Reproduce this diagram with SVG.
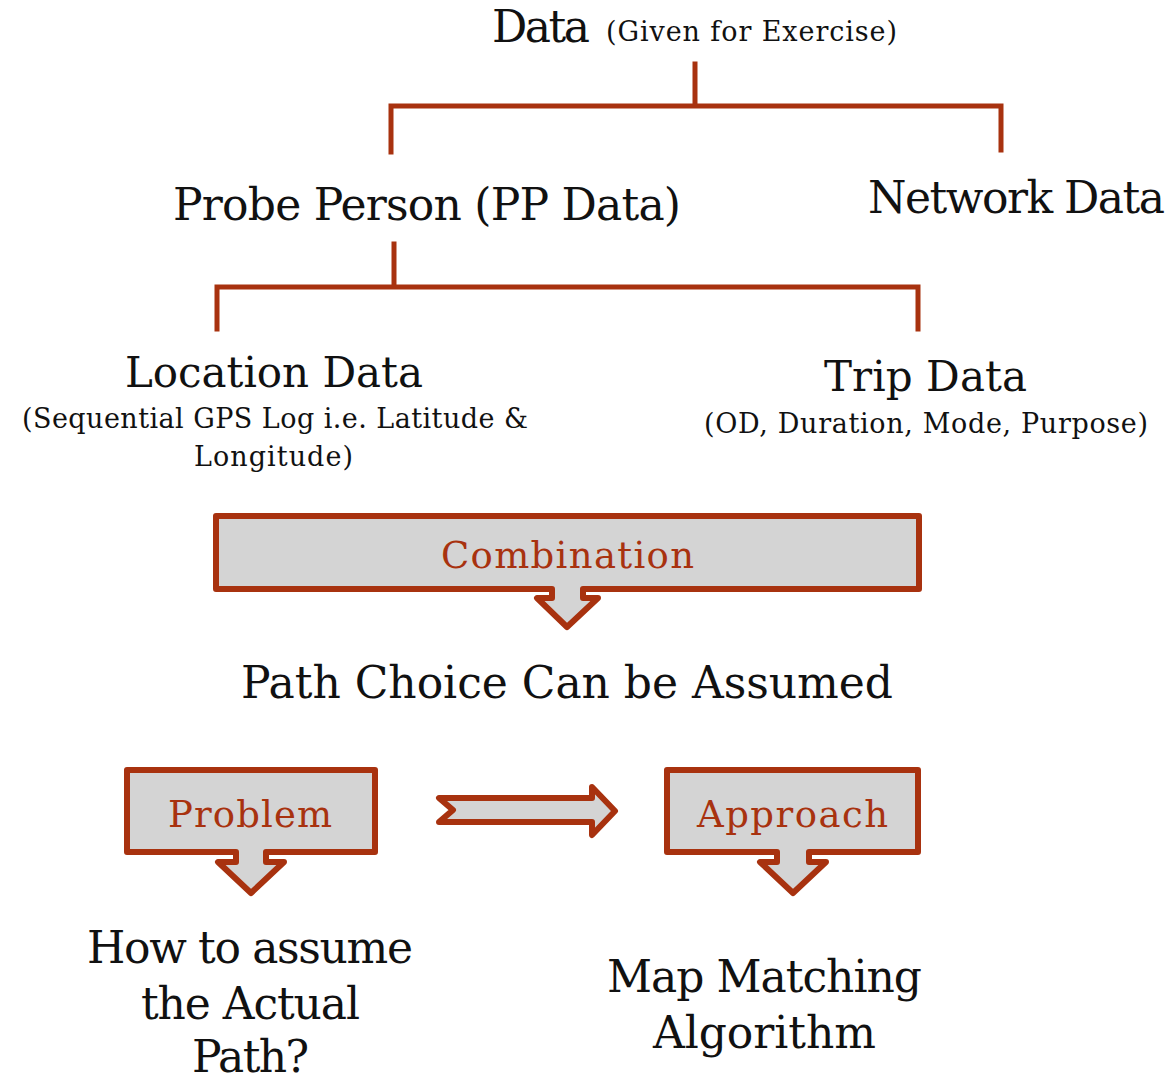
<svg xmlns="http://www.w3.org/2000/svg" width="1172" height="1081" viewBox="0 0 1172 1081">
  <style>
    .t { font-family: "DejaVu Serif", "Liberation Serif", serif; fill: #111; }
    .big { font-size: 44px; }
    .mid { font-size: 42px; }
    .small { font-size: 27px; }
    .lbl { font-family: "DejaVu Serif", "Liberation Serif", serif; font-size: 37px; fill: #A8320F; }
    .wire { fill: none; stroke: #A8320F; stroke-width: 5; stroke-linecap: square; }
    .callout { fill: #D4D4D4; stroke: #A8320F; stroke-width: 6; stroke-linejoin: round; }
  </style>
  <rect width="1172" height="1081" fill="#ffffff"/>

  <!-- tree connectors -->
  <g id="connectors">
    <path class="wire" d="M695,64 V106 M391,106 H1001 M391,106 V152 M1001,106 V150"/>
    <path class="wire" d="M394,244 V287 M217,287 H918 M217,287 V329 M918,287 V329"/>
    <path class="callout" stroke-width="5" d="M439,798 H592 V787 L615,811 L592,835 V822 H439 L453,810 Z"/>
  </g>

  <g id="data">
    <text class="t big" x="492" y="42" textLength="98">Data</text>
    <text class="t small" x="606" y="41" textLength="291">(Given for Exercise)</text>
  </g>

  <g id="probe-person">
    <text class="t big" x="173" y="220" textLength="508">Probe Person (PP Data)</text>
  </g>

  <g id="network-data">
    <text class="t big" x="868" y="213" textLength="297">Network Data</text>
  </g>

  <g id="location-data">
    <text class="t mid" x="125" y="387" textLength="298">Location Data</text>
    <text class="t small" x="22" y="428" textLength="506">(Sequential GPS Log i.e. Latitude &amp;</text>
    <text class="t small" x="194" y="466" textLength="159">Longitude)</text>
  </g>

  <g id="trip-data">
    <text class="t mid" x="824" y="391" textLength="203">Trip Data</text>
    <text class="t small" x="704" y="433" textLength="444">(OD, Duration, Mode, Purpose)</text>
  </g>

  <g id="combination">
    <path class="callout" d="M216,516 H919 V589 H583 V598 H598 L567,627 L537,598 H552 V589 H216 Z"/>
    <text class="lbl" x="441" y="568" textLength="253">Combination</text>
  </g>

  <g id="path-choice">
    <text class="t big" x="241" y="698" textLength="652">Path Choice Can be Assumed</text>
  </g>

  <g id="problem">
    <path class="callout" d="M127,770 H375 V852 H266 V862 H284 L251,893 L218,862 H236 V852 H127 Z"/>
    <text class="lbl" x="168" y="827" textLength="164">Problem</text>
  </g>

  <g id="approach">
    <path class="callout" d="M667,770 H918 V852 H809 V862 H826 L793,893 L760,862 H777 V852 H667 Z"/>
    <text class="lbl" x="697" y="827" textLength="191">Approach</text>
  </g>

  <g id="question">
    <text class="t big" x="87" y="963" textLength="326">How to assume</text>
    <text class="t big" x="141" y="1019" textLength="219">the Actual</text>
    <text class="t big" x="192" y="1072" textLength="117">Path?</text>
  </g>

  <g id="map-matching">
    <text class="t big" x="607" y="992" textLength="315">Map Matching</text>
    <text class="t big" x="653" y="1048" textLength="223">Algorithm</text>
  </g>
</svg>
